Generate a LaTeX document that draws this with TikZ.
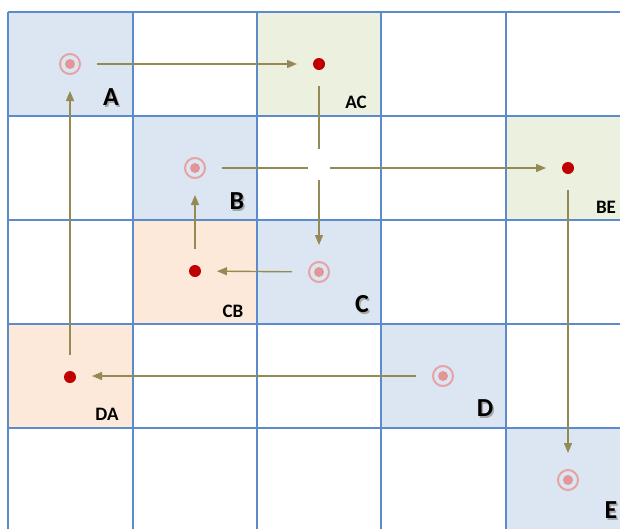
\documentclass[tikz,border=0pt]{standalone}
\usepackage{fontspec}
\setmainfont{Carlito}
\usepackage{xcolor}
\usepackage{tikz}
\usetikzlibrary{arrows.meta, positioning}

\definecolor{cellblue}{HTML}{DCE6F2}
\definecolor{cellgreen}{HTML}{EBF1DE}
\definecolor{cellorange}{HTML}{FDE9D9}
\definecolor{gridblue}{HTML}{5B8BCB}
\definecolor{flowolive}{HTML}{948A54}
\definecolor{ringpink}{HTML}{E6A3A3}
\definecolor{dotpink}{HTML}{E39696}
\definecolor{hitred}{HTML}{C00000}

\newcommand{\shadowletter}[1]{\rlap{\hspace{1.5pt}\raisebox{-1.5pt}{\color{black!35}#1}}#1}

\begin{document}
\begin{tikzpicture}[
          x=1pt, y=-1pt,
          target/.style={circle, draw=ringpink, line width=2pt, minimum size=20pt,
            inner sep=0pt, outer sep=17pt,
            path picture={\fill[dotpink] (path picture bounding box.center) circle (5);}},
          hit/.style={circle, fill=hitred, minimum size=12pt, inner sep=0pt, outer sep=16pt},
          flow/.style={-{Triangle[length=10pt,width=8pt]}, flowolive, line width=1.4pt},
          bigletter/.style={font=\fontsize{26}{26}\selectfont\bfseries, inner sep=0pt},
          tag/.style={font=\fontsize{19}{19}\selectfont\bfseries, inner sep=0pt}
        ]
          \useasboundingbox (0,0) rectangle (620,528);
          \clip (0,0) rectangle (620,528);

          % Coloured cells
          \fill[cellblue] (8,12) rectangle (133,116);
          \fill[cellblue] (133,116) rectangle (257,220);
          \fill[cellblue] (257,220) rectangle (381,324);
          \fill[cellblue] (381,324) rectangle (506,428);
          \fill[cellblue] (506,428) rectangle (640,540);
          \fill[cellgreen] (257,12) rectangle (381,116);
          \fill[cellgreen] (506,116) rectangle (640,220);
          \fill[cellorange] (133,220) rectangle (257,324);
          \fill[cellorange] (8,324) rectangle (133,428);

          % Grid
          \foreach \gx in {8,133,257,381,506}
            \draw[gridblue, line width=1.2pt] (\gx,12) -- (\gx,540);
          \foreach \gy in {12,116,220,324,428}
            \draw[gridblue, line width=1.2pt] (8,\gy) -- (640,\gy);

          % Targets and hits
          \node[target] (a) at (70,64) {};
          \node[target] (b) at (195,168) {};
          \node[target] (c) at (319,272) {};
          \node[target] (d) at (443,376) {};
          \node[target] (e) at (568,480) {};
          \node[hit] (ac) at (319,64) {};
          \node[hit] (be) at (568,168) {};
          \node[hit] (cb) at (195,271) {};
          \node[hit] (da) at (70,377) {};

          % Labels
          \node[bigletter] (la) at (111,98) {\shadowletter{A}};
          \node[bigletter] (lb) at (237,202) {\shadowletter{B}};
          \node[bigletter] (lc) at (362,305) {\shadowletter{C}};
          \node[bigletter] (ld) at (485,409) {\shadowletter{D}};
          \node[bigletter] (le) at (611,511) {\shadowletter{E}};
          \node[tag] (lac) at (356,102) {AC};
          \node[tag] (lbe) at (606,207) {BE};
          \node[tag] (lcb) at (233,311) {CB};
          \node[tag] (lda) at (107,414) {DA};

          % Gap where two arrows cross
          \node[minimum width=22pt, minimum height=31pt, inner sep=0pt, outer sep=0pt] (cross) at (319,164) {};

          % Arrows
          \draw[flow] (a) -- (ac);
          \draw[flowolive, line width=1.4pt] (ac) -- (cross.north);
          \draw[flow] (cross.south) -- (c);
          \draw[flowolive, line width=1.4pt] (b) -- (b -| cross.west);
          \draw[flow] (b -| cross.east) -- (be);
          \draw[flow] (be) -- (e);
          \draw[flow] (c) -- (cb);
          \draw[flow] (cb) -- (b);
          \draw[flow] (d) -- (d -| da.east);
          \draw[flow] (da) -- (a);
        \end{tikzpicture}
\end{document}
